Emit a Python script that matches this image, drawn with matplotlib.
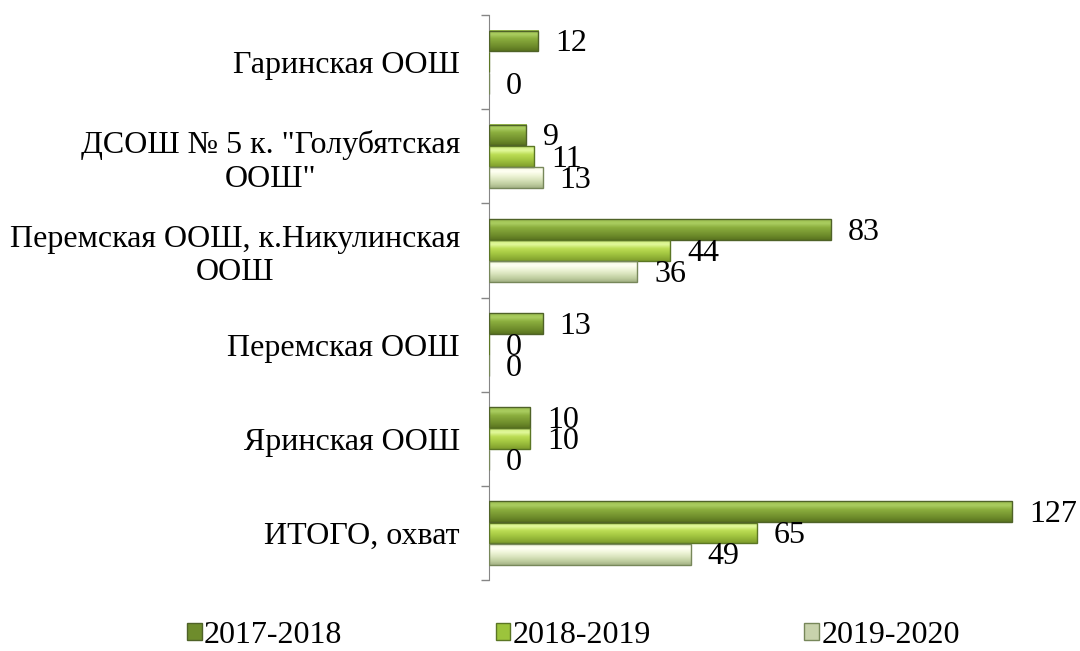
import numpy as np
import matplotlib
matplotlib.use('Agg')
import matplotlib.pyplot as plt
from matplotlib.colors import LinearSegmentedColormap
from matplotlib.patches import Patch

plt.rcParams['font.family'] = ['Liberation Serif', 'DejaVu Serif']

categories = ['Гаринская ООШ',
              'ДСОШ № 5 к. "Голубятская\nООШ"',
              'Перемская ООШ, к.Никулинская\nООШ',
              'Перемская ООШ',
              'Яринская ООШ',
              'ИТОГО, охват']
series_names = ['2017-2018', '2018-2019', '2019-2020']
v_2017 = [12, 9, 83, 13, 10, 127]
v_2018 = [np.nan, 11, 44, 0, 10, 65]
v_2019 = [0, 13, 36, 0, 0, 49]
values = [v_2017, v_2018, v_2019]

# gradient stops top -> bottom, edge colour, legend colour
grads = [
    ['#9CBF50', '#AACD60', '#8BAE3E', '#7C9C34', '#6C8A2A', '#59731F'],
    ['#CBEA76', '#E2F99C', '#BCDD55', '#A8CB44', '#94B638', '#7E9C2C'],
    ['#F2F7E0', '#FFFFF3', '#EFF5D8', '#DAE4BE', '#C2D0A2', '#A4B286'],
]
edges = ['#4F6228', '#5B7624', '#77875A']
legend_cols = ['#6E8C2C', '#9CC43C', '#C8D2AC']

fs = 23

fig = plt.figure(figsize=(10.8, 6.51), dpi=100)
ax = fig.add_axes([0.4528, 0.109, 0.534, 0.868])

y = np.arange(len(categories))
h = 0.22
offsets = [-0.225, 0.0, 0.225]
grad = np.linspace(0, 1, 60).reshape(-1, 1)

for i, vals in enumerate(values):
    vals_arr = np.array(vals, dtype=float)
    bars = ax.barh(y + offsets[i], np.nan_to_num(vals_arr), height=h,
                   color='none', edgecolor=edges[i], linewidth=1.0, zorder=3)
    cmap = LinearSegmentedColormap.from_list('g%d' % i, grads[i])
    for b, v in zip(bars, vals_arr):
        if np.isnan(v):
            continue
        x0, y0 = b.get_x(), b.get_y()
        x1, y1 = x0 + b.get_width(), y0 + b.get_height()
        if b.get_width() > 0:
            ax.imshow(grad, cmap=cmap, aspect='auto', interpolation='bilinear',
                      extent=(x0, x1, y1, y0), zorder=2)
        ax.annotate('%d' % v, (x1, y0 + b.get_height() / 2), xytext=(12, -2),
                    textcoords='offset points', ha='left', va='center',
                    fontsize=fs, color='black')

ax.set_xlim(0, 140)
ax.set_ylim(len(categories) - 0.5, -0.5)

ax.set_yticks(y)
ax.set_yticklabels(categories, fontsize=fs, multialignment='center')
ax.set_yticks(np.arange(len(categories) + 1) - 0.5, minor=True)
ax.tick_params(axis='y', which='major', length=0, pad=21)
ax.tick_params(axis='y', which='minor', length=6, color='#868686', width=1)
ax.set_xticks([])
for s in ['top', 'right', 'bottom']:
    ax.spines[s].set_visible(False)
ax.spines['left'].set_color('#868686')

handles = [Patch(facecolor=legend_cols[i], edgecolor=edges[i], label=series_names[i])
           for i in range(3)]
fig.legend(handles=handles, loc='center', bbox_to_anchor=(0.531, 0.024), ncol=3,
           frameon=False, fontsize=fs, handlelength=0.45, handleheight=0.45,
           handletextpad=0.08, columnspacing=4.8)

fig.savefig('out.png', dpi=100)
